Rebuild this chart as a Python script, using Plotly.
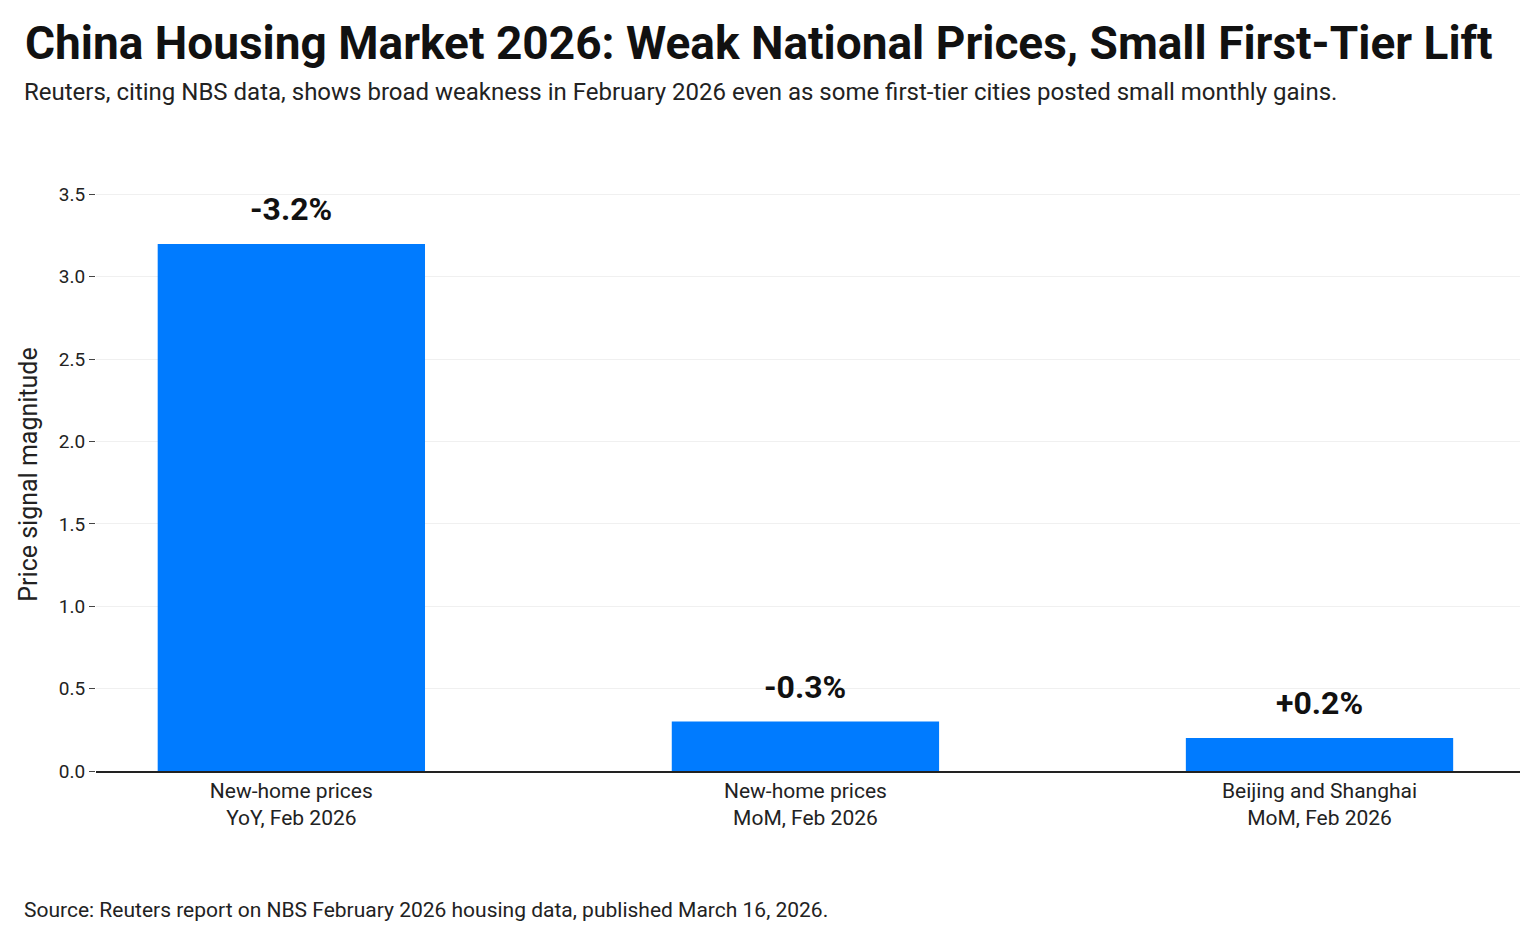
import plotly.graph_objects as go

categories = ["New-home prices<br>YoY, Feb 2026", "New-home prices<br>MoM, Feb 2026", "Beijing and Shanghai<br>MoM, Feb 2026"]
magnitudes = [3.2, 0.3, 0.2]
labels = ["-3.2%", "-0.3%", "+0.2%"]
x_pos = [0, 1, 2]

fig = go.Figure(go.Bar(
    x=x_pos, y=magnitudes,
    marker=dict(color="#007BFF", line=dict(width=0)), width=0.52,
))

notes = [
    dict(text="Reuters, citing NBS data, shows broad weakness in February 2026 even as some first-tier cities posted small monthly gains.",
         xref="paper", yref="paper", x=-0.052, y=1.0, xanchor="left", yanchor="bottom",
         yshift=70, showarrow=False, font=dict(size=24, color="#222222")),
    dict(text="Source: Reuters report on NBS February 2026 housing data, published March 16, 2026.",
         xref="paper", yref="paper", x=-0.052, y=0, xanchor="left", yanchor="middle",
         yshift=-139, showarrow=False, font=dict(size=21, color="#222222")),
]
for xv, yv, lab in zip(x_pos, magnitudes, labels):
    notes.append(dict(text="<b>" + lab + "</b>", x=xv, y=yv, xref="x", yref="y",
                      yanchor="bottom", yshift=14, showarrow=False,
                      font=dict(size=32, color="#111111")))

fig.update_layout(
    width=1536, height=937, plot_bgcolor="white", paper_bgcolor="white",
    font=dict(family="Roboto", size=18, color="#222222"),
    margin=dict(l=88, r=24, t=170, b=174),
    showlegend=False,
    title=dict(text="<b>China Housing Market 2026: Weak National Prices, Small First-Tier Lift</b>",
               x=0.011, xanchor="left", y=0.963, yanchor="middle",
               font=dict(size=46, color="#111111")),
    annotations=notes,
)
fig.update_xaxes(tickvals=x_pos, ticktext=categories, range=[-0.38, 2.39],
                 showline=True, linecolor="#222222", linewidth=1.5, ticks="",
                 tickfont=dict(size=21), showgrid=False)
fig.update_yaxes(range=[0, 3.6], dtick=0.5, tickformat=".1f", ticks="outside",
                 ticklen=6, tickcolor="#444444", gridcolor="#f0f0f0", zeroline=False,
                 title=dict(text="Price signal magnitude", font=dict(size=25), standoff=14),
                 tickfont=dict(size=19))

fig.write_html("out.html")
